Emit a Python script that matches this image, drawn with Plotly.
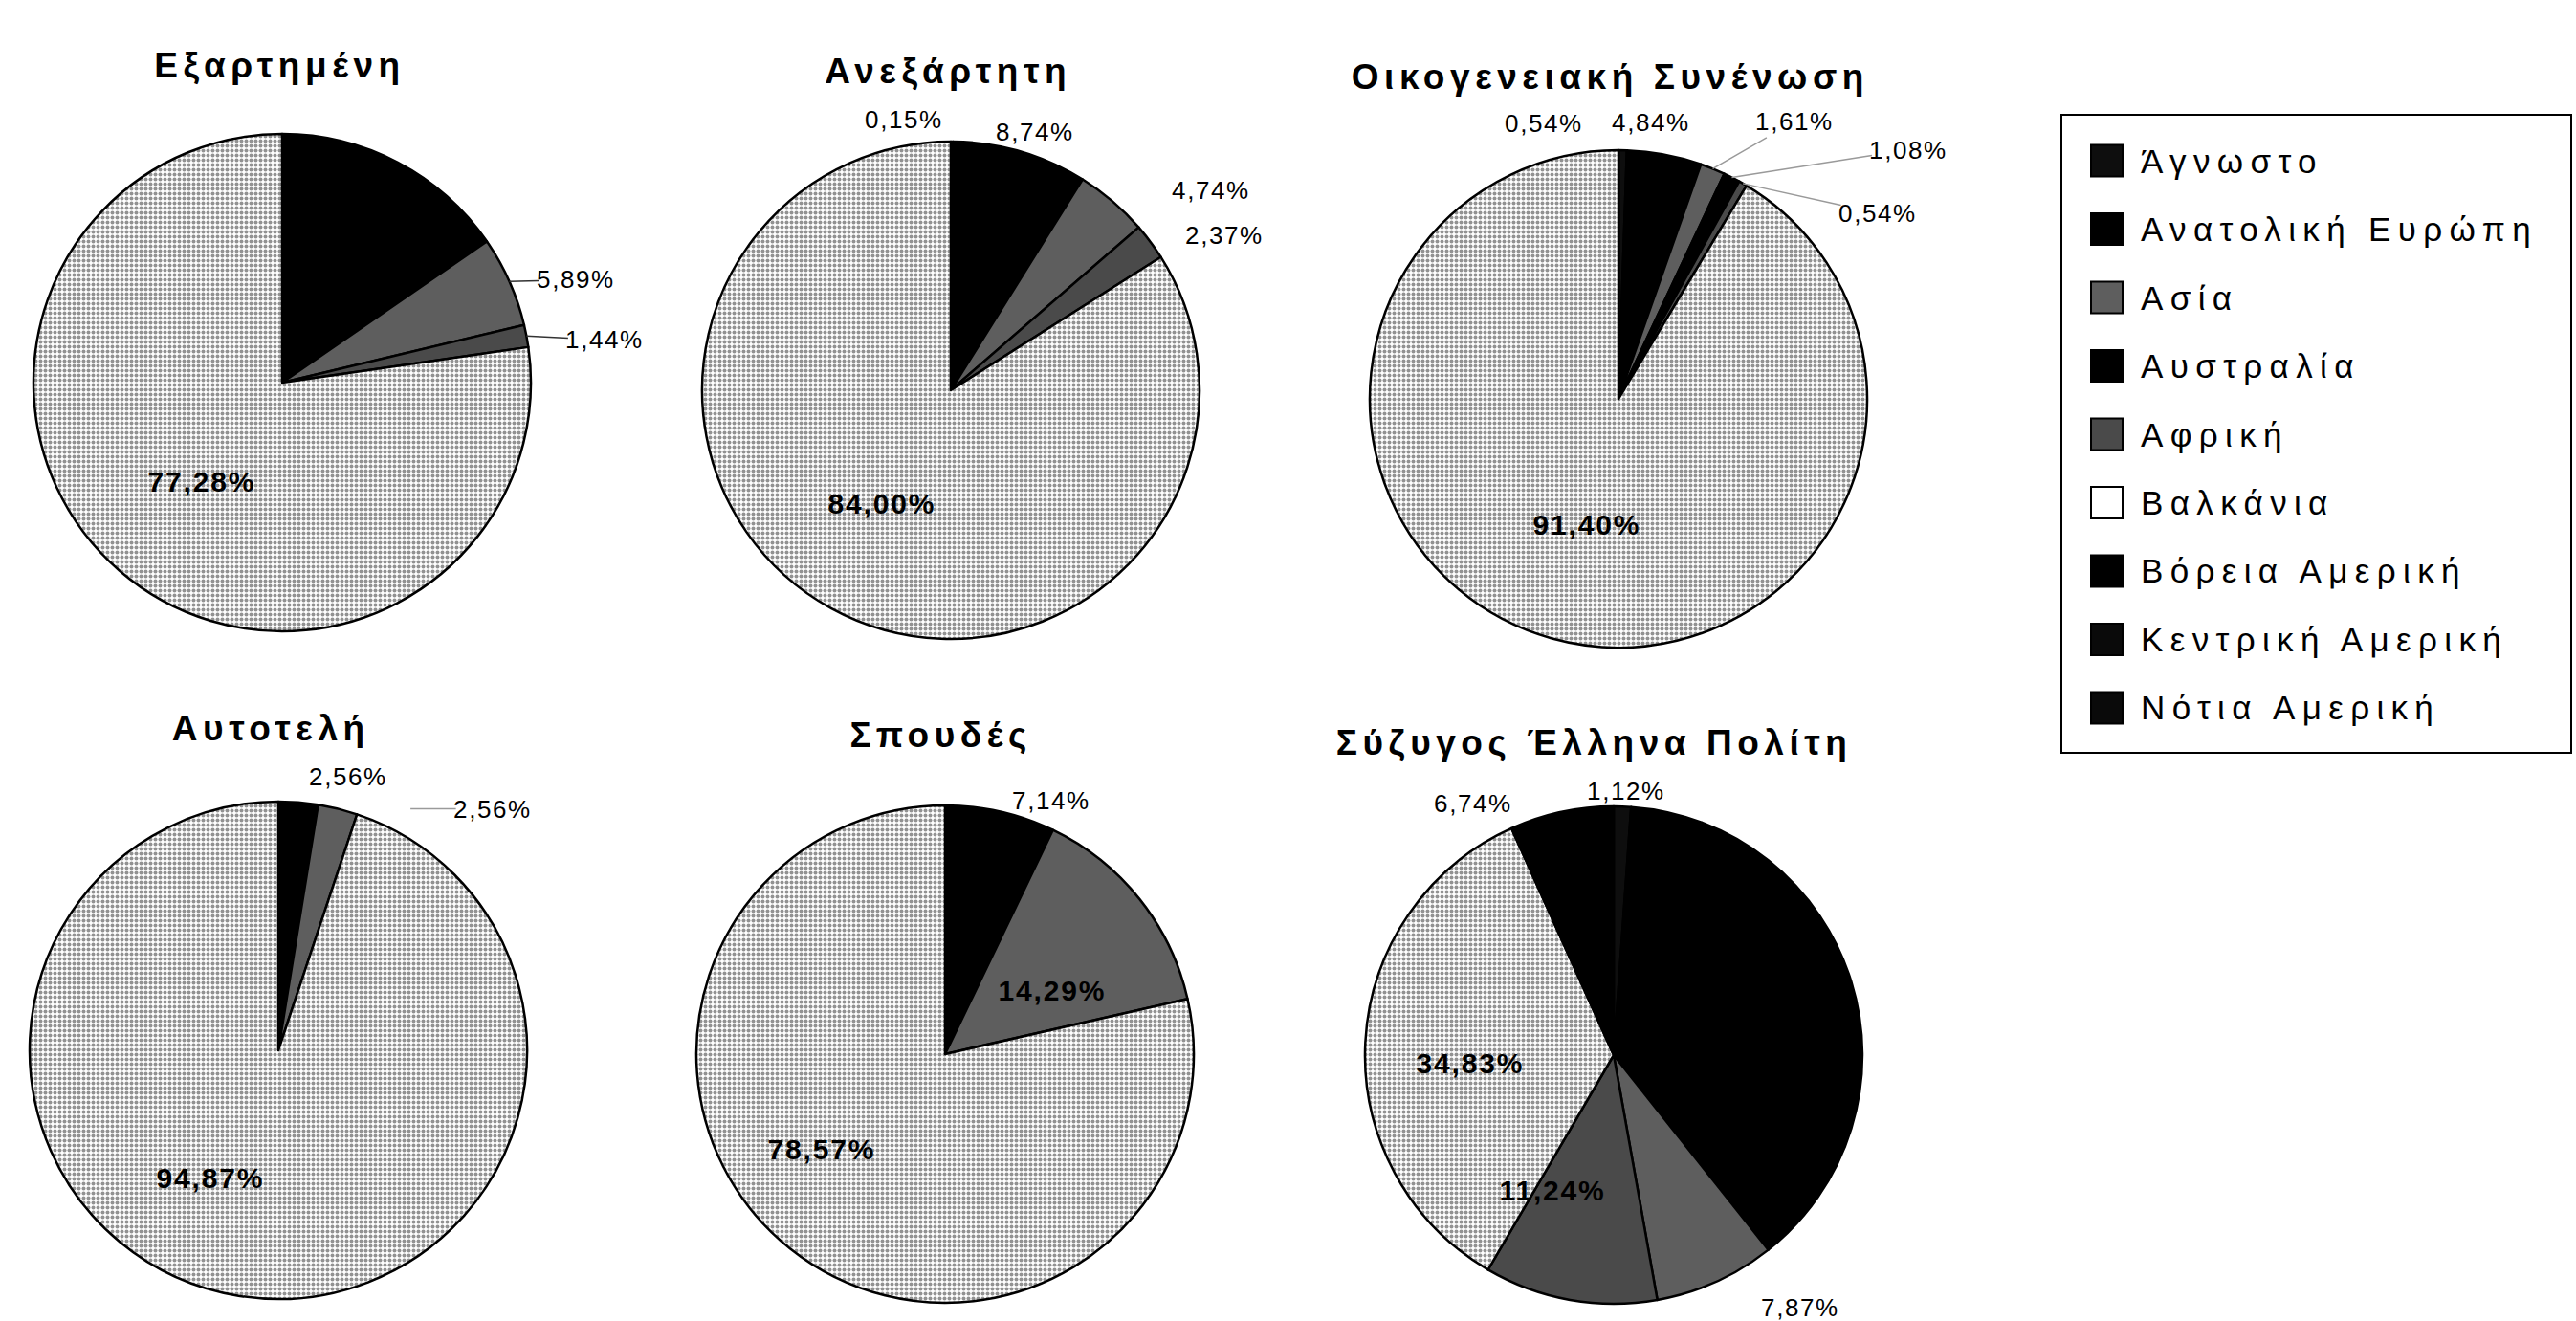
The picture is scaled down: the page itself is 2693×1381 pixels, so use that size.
import math
import plotly.graph_objects as go

# ---- data -------------------------------------------------------------
categories = ["Άγνωστο", "Ανατολική Ευρώπη", "Ασία", "Αυστραλία", "Αφρική",
              "Βαλκάνια", "Βόρεια Αμερική", "Κεντρική Αμερική", "Νότια Αμερική"]

titles = ["Εξαρτημένη", "Ανεξάρτητη", "Οικογενειακή Συνένωση",
          "Αυτοτελή", "Σπουδές", "Σύζυγος Έλληνα Πολίτη"]

# share (%) of each region, in category order, per permit type
exartimeni   = [0.00, 15.39, 5.89, 0.00, 1.44, 77.28, 0.00, 0.00, 0.00]
anexartiti   = [0.15, 8.74, 4.74, 0.00, 2.37, 84.00, 0.00, 0.00, 0.00]
oikogeneiaki = [0.54, 4.84, 1.61, 1.08, 0.54, 91.40, 0.00, 0.00, 0.00]
autoteli     = [0.00, 2.56, 2.56, 0.00, 0.00, 94.87, 0.00, 0.00, 0.00]
spoudes      = [0.00, 7.14, 14.29, 0.00, 0.00, 78.57, 0.00, 0.00, 0.00]
syzygos      = [1.12, 38.20, 7.87, 0.00, 11.24, 34.83, 6.74, 0.00, 0.00]

series = [exartimeni, anexartiti, oikogeneiaki, autoteli, spoudes, syzygos]

# ---- styling ----------------------------------------------------------
W, H = 2693, 1381
FONT = "Liberation Sans, Arial, sans-serif"

colors = {
    "Άγνωστο": "#0e0e0e",
    "Ανατολική Ευρώπη": "#000000",
    "Ασία": "#5e5e5e",
    "Αυστραλία": "#000000",
    "Αφρική": "#4a4a4a",
    "Βαλκάνια": "#ffffff",
    "Βόρεια Αμερική": "#000000",
    "Κεντρική Αμερική": "#0a0a0a",
    "Νότια Αμερική": "#0a0a0a",
}
stippled = {"Βαλκάνια"}

# pie centres (px), radius and title positions (px)
centres = [(295, 400), (994, 408), (1692, 417),
           (291, 1098), (988, 1102), (1687, 1103)]
RADIUS = 260
title_pos = [(292, 69), (991, 74), (1683, 81),
             (283, 761), (984, 768), (1666, 776)]

# label placement per pie: category -> (where, dx, dy, leader colour, standoff)
# "in" labels sit around half radius on the slice bisector, "out" labels
# next to the rim; dx/dy are pixel nudges from that anchor point.
label_style = [
    {"Ανατολική Ευρώπη": ("in", 0, 0, None, 0),
     "Ασία": ("out", 69, -2, "#333333", 0),
     "Αφρική": ("out", 82, 4, "#333333", 0),
     "Βαλκάνια": ("in", 1, 5, None, 0)},
    {"Άγνωστο": ("out", -50, -23, None, 0),
     "Ανατολική Ευρώπη": ("out", 15, -20, None, 0),
     "Ασία": ("out", 103, -11, None, 0),
     "Αφρική": ("out", 77, -7, None, 0),
     "Βαλκάνια": ("in", -9, 5, None, 0)},
    {"Άγνωστο": ("out", -82, -28, None, 0),
     "Ανατολική Ευρώπη": ("out", -14, -33, None, 0),
     "Ασία": ("out", 85, -49, "#9a9a9a", 0),
     "Αυστραλία": ("out", 185, -29, "#9a9a9a", 0),
     "Αφρική": ("out", 141, 31, "#9a9a9a", 0),
     "Βαλκάνια": ("in", 2, 6, None, 0)},
    {"Ανατολική Ευρώπη": ("out", 52, -27, None, 0),
     "Ασία": ("out", 162, 0, "#9a9a9a", 76),
     "Βαλκάνια": ("in", -50, 5, None, 0)},
    {"Ανατολική Ευρώπη": ("out", 53, -12, None, 0),
     "Ασία": ("in", 10, 15, None, 0),
     "Βαλκάνια": ("in", -48, -2, None, 0)},
    {"Άγνωστο": ("out", 4, -16, None, 0),
     "Ανατολική Ευρώπη": ("in", 0, 0, None, 0),
     "Ασία": ("out", 88, 27, None, 0),
     "Αφρική": ("in", -41, 14, None, 0),
     "Βαλκάνια": ("in", -20, 15, None, 0),
     "Βόρεια Αμερική": ("out", -92, -9, None, 0)},
]


def pct(v):
    return f"{v:.2f}%".replace(".", ",")


def px(x, y):
    return x / W, 1 - y / H


fig = go.Figure()
spacing = []  # letter spacing for each annotation, in order of creation

for k, (vals, (cx, cy)) in enumerate(zip(series, centres)):
    labs = [c for c, v in zip(categories, vals) if v > 0]
    vs = [v for v in vals if v > 0]
    fig.add_trace(go.Pie(
        labels=labs,
        values=vs,
        textinfo="none",
        sort=False,
        direction="clockwise",
        rotation=0,
        marker=dict(
            colors=[colors[c] for c in labs],
            line=dict(color="#000000", width=2.5),
            pattern=dict(
                shape=["." if c in stippled else "" for c in labs],
                fgcolor=["#929292" if c in stippled else colors[c] for c in labs],
                bgcolor=[colors[c] for c in labs],
                size=5,
                solidity=0.5,
            ),
        ),
        domain=dict(x=[(cx - RADIUS) / W, (cx + RADIUS) / W],
                    y=[1 - (cy + RADIUS) / H, 1 - (cy - RADIUS) / H]),
        showlegend=False,
        hoverinfo="label+percent",
    ))

    # percentage labels, anchored on each slice's bisector
    total = sum(vs)
    cum = 0.0
    for c, v in zip(labs, vs):
        theta = 2 * math.pi * (cum + v / 2) / total
        cum += v
        where, dx, dy, line_col, standoff = label_style[k][c]
        r = RADIUS * (0.5 if where == "in" else 1.0)
        ax_, ay_ = cx + r * math.sin(theta), cy - r * math.cos(theta)
        x, y = px(ax_, ay_)
        if where == "in":
            fig.add_annotation(text=pct(v), x=x, y=y, xref="paper", yref="paper",
                               showarrow=False, xshift=dx, yshift=-dy,
                               xanchor="center", yanchor="middle",
                               font=dict(family=FONT, size=30, color="#000000",
                                         weight="bold"))
        elif line_col:
            fig.add_annotation(text=pct(v), x=x, y=y, xref="paper", yref="paper",
                               showarrow=True, ax=dx, ay=dy, arrowhead=0,
                               arrowwidth=1.5, arrowcolor=line_col, standoff=standoff,
                               font=dict(family=FONT, size=26, color="#000000"))
        else:
            fig.add_annotation(text=pct(v), x=x, y=y, xref="paper", yref="paper",
                               showarrow=False, xshift=dx, yshift=-dy,
                               xanchor="center", yanchor="middle",
                               font=dict(family=FONT, size=26, color="#000000"))
        spacing.append("0.06em")

# chart titles
for t, (tx, ty) in zip(titles, title_pos):
    x, y = px(tx, ty)
    fig.add_annotation(text=t, x=x, y=y, xref="paper", yref="paper",
                       showarrow=False, xanchor="center", yanchor="middle",
                       font=dict(family=FONT, size=37, color="#000000", weight="bold"))
    spacing.append("0.15em")

# legend box with one swatch per region
box = dict(x0=2155, x1=2688, y0=120, y1=787)
fig.add_shape(type="rect", xref="paper", yref="paper",
              x0=box["x0"] / W, x1=box["x1"] / W,
              y0=1 - box["y1"] / H, y1=1 - box["y0"] / H,
              line=dict(color="#000000", width=2), fillcolor="rgba(0,0,0,0)")
first_y, step, sw = 168, 71.5, 33
for i, c in enumerate(categories):
    yc = first_y + i * step
    fig.add_shape(type="rect", xref="paper", yref="paper",
                  x0=2186 / W, x1=(2186 + sw) / W,
                  y0=1 - (yc + sw / 2) / H, y1=1 - (yc - sw / 2) / H,
                  line=dict(color="#000000", width=2), fillcolor=colors[c])
    fig.add_annotation(text=c, x=2236 / W, y=1 - yc / H, xref="paper", yref="paper",
                       showarrow=False, xanchor="left", yanchor="middle", align="left",
                       font=dict(family=FONT, size=35, color="#000000"))
    spacing.append("0.21em")

fig.update_layout(
    width=W, height=H,
    margin=dict(l=0, r=0, t=0, b=0),
    paper_bgcolor="#ffffff",
    plot_bgcolor="#ffffff",
)

# wide letter spacing, per annotation
spacing_js = """
var gd = document.getElementsByClassName('plotly-graph-div')[0];
var sp = %s;
function spaceText() {
  gd.querySelectorAll('g.annotation').forEach(function (g) {
    var i = +g.getAttribute('data-index');
    var t = g.querySelector('text.annotation-text');
    if (t && sp[i]) { t.style.letterSpacing = sp[i]; }
  });
}
spaceText();
gd.on('plotly_afterplot', spaceText);
""" % str(spacing).replace("'", '"')

fig.write_html("out.html", config={"responsive": False, "displayModeBar": False},
               post_script=spacing_js)
